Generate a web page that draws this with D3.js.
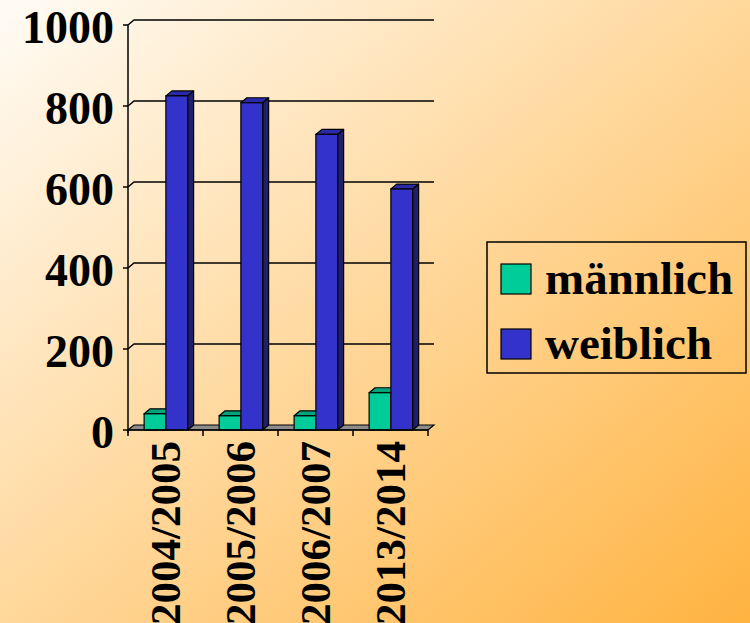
<!DOCTYPE html>
<html>
<head>
<meta charset="utf-8">
<script src="https://cdn.jsdelivr.net/npm/d3@7/dist/d3.min.js"></script>
<style>
  html, body { margin: 0; padding: 0; }
  svg { display: block; }
  text { font-family: "Liberation Serif", "Times New Roman", serif; font-weight: bold; fill: #000; }
</style>
</head>
<body>
<svg id="chart"></svg>
<script>
// Daten
var categories = ["2004/2005", "2005/2006", "2006/2007", "2013/2014"];
var seriesNames = ["männlich", "weiblich"];
var maleValues = [40, 35, 35, 92];
var femaleValues = [825, 808, 730, 595];
var yTicks = [0, 200, 400, 600, 800, 1000];

var W = 750, H = 623;
var depthX = 6, depthY = -5;   // 3D-Versatz

var colors = {
  front: ["#00cc99", "#3333cc"],
  top:   ["#00a37a", "#2a2aa8"],
  side:  ["#008060", "#1f1f6b"]
};

var svg = d3.select("#chart").attr("width", W).attr("height", H);

// Hintergrundverlauf
var defs = svg.append("defs");
var grad = defs.append("linearGradient").attr("id", "bg")
  .attr("x1", 0).attr("y1", 0).attr("x2", 1).attr("y2", 1);
grad.append("stop").attr("offset", "0%").attr("stop-color", "#fffcf6");
grad.append("stop").attr("offset", "100%").attr("stop-color", "#ffb340");
svg.append("rect").attr("width", W).attr("height", H).attr("fill", "url(#bg)");

// Skalen
var x = d3.scaleBand().domain(categories).range([128, 428]).padding(0);
var inner = d3.scaleBand().domain(d3.range(seriesNames.length))
  .range([x.bandwidth() * 0.215, x.bandwidth() * 0.795]).padding(0);
var y = d3.scaleLinear().domain([0, 1000]).range([430, 25]);

var x0 = x.range()[0], x1 = x.range()[1];

// Rückwand-Gitterlinien
svg.selectAll(".grid")
  .data(yTicks.filter(function(d){ return d > 0; })).enter()
  .append("path").classed("grid", 1)
  .attr("d", function(d){
    return "M" + x0 + "," + y(d) + "L" + (x0 + depthX) + "," + (y(d) + depthY) +
           "L" + (x1 + depthX) + "," + (y(d) + depthY);
  })
  .attr("fill", "none").attr("stroke", "#000").attr("stroke-width", 1.5);

// Boden
svg.append("path")
  .attr("d", "M" + x0 + "," + y(0) + "L" + (x0 + depthX) + "," + (y(0) + depthY) +
             "L" + (x1 + depthX) + "," + (y(0) + depthY) + "L" + x1 + "," + y(0) + "Z")
  .attr("fill", "#8c8c8c").attr("stroke", "#000").attr("stroke-width", 1.2);

// Balken
var table = categories.map(function(c, i){ return { cat: c, vals: [maleValues[i], femaleValues[i]] }; });
var groups = svg.selectAll(".grp").data(table).enter()
  .append("g").classed("grp", 1)
  .attr("transform", function(d){ return "translate(" + x(d.cat) + ",0)"; });

groups.each(function(d){
  var g = d3.select(this);
  d.vals.forEach(function(v, s){
    var bx = inner(s), bw = inner.bandwidth();
    var yt = y(v), yb = y(0);
    // Seite
    g.append("path")
      .attr("d", "M" + (bx + bw) + "," + yb + "L" + (bx + bw + depthX) + "," + (yb + depthY) +
                 "L" + (bx + bw + depthX) + "," + (yt + depthY) + "L" + (bx + bw) + "," + yt + "Z")
      .attr("fill", colors.side[s]).attr("stroke", "#000").attr("stroke-width", 1.2)
      .attr("stroke-linejoin", "round");
    // Oberseite
    g.append("path")
      .attr("d", "M" + bx + "," + yt + "L" + (bx + depthX) + "," + (yt + depthY) +
                 "L" + (bx + bw + depthX) + "," + (yt + depthY) + "L" + (bx + bw) + "," + yt + "Z")
      .attr("fill", colors.top[s]).attr("stroke", "#000").attr("stroke-width", 1.2)
      .attr("stroke-linejoin", "round");
    // Vorderseite
    g.append("rect")
      .attr("x", bx).attr("y", yt).attr("width", bw).attr("height", yb - yt)
      .attr("fill", colors.front[s]).attr("stroke", "#000").attr("stroke-width", 1.2);
  });
});

// Y-Achse
svg.append("line")
  .attr("x1", x0).attr("y1", y(1000)).attr("x2", x0).attr("y2", y(0) + 3)
  .attr("stroke", "#000").attr("stroke-width", 1.5);
svg.selectAll(".ytick").data(yTicks).enter()
  .append("line").classed("ytick", 1)
  .attr("x1", x0 - 5).attr("x2", x0)
  .attr("y1", function(d){ return y(d); }).attr("y2", function(d){ return y(d); })
  .attr("stroke", "#000").attr("stroke-width", 1.5);
svg.selectAll(".ylab").data(yTicks).enter()
  .append("text").classed("ylab", 1)
  .attr("x", 114).attr("y", function(d){ return y(d) + 18; })
  .attr("text-anchor", "end").style("font-size", "46px")
  .text(function(d){ return d; });

// X-Achse
svg.append("line")
  .attr("x1", x0).attr("y1", y(0)).attr("x2", x1).attr("y2", y(0))
  .attr("stroke", "#000").attr("stroke-width", 1.5);
svg.selectAll(".xtick").data(d3.range(categories.length + 1)).enter()
  .append("line").classed("xtick", 1)
  .attr("x1", function(i){ return x0 + i * x.bandwidth(); })
  .attr("x2", function(i){ return x0 + i * x.bandwidth(); })
  .attr("y1", y(0)).attr("y2", y(0) + 6)
  .attr("stroke", "#000").attr("stroke-width", 1.5);
svg.selectAll(".xlab").data(categories).enter()
  .append("text").classed("xlab", 1)
  .attr("transform", function(d){
    return "translate(" + (x(d) + x.bandwidth() / 2 + 14.5) + ",441) rotate(-90)";
  })
  .attr("text-anchor", "end").style("font-size", "43px")
  .text(function(d){ return d; });

// Legende
var leg = svg.append("g");
leg.append("rect").attr("x", 487).attr("y", 242).attr("width", 259).attr("height", 131)
  .attr("fill", "none").attr("stroke", "#000").attr("stroke-width", 1.5);
var items = leg.selectAll(".li").data(seriesNames).enter()
  .append("g").classed("li", 1)
  .attr("transform", function(d, i){ return "translate(0," + (i * 65) + ")"; });
items.append("rect").attr("x", 501).attr("y", 264).attr("width", 30).attr("height", 30)
  .attr("fill", function(d, i){ return colors.front[i]; })
  .attr("stroke", "#000").attr("stroke-width", 1.2);
items.append("text").attr("x", 545).attr("y", 294).style("font-size", "47px")
  .text(function(d){ return d; });
</script>
</body>
</html>
